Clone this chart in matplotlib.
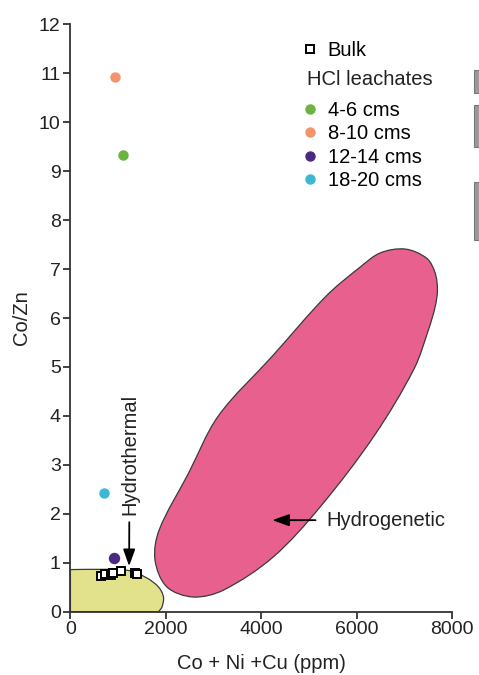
import numpy as np
import matplotlib
matplotlib.use('Agg')
import matplotlib.pyplot as plt
from matplotlib.path import Path
from matplotlib.patches import PathPatch, Rectangle
from matplotlib.lines import Line2D

plt.rcParams['font.family'] = ['Liberation Sans', 'DejaVu Sans']

# bulk sediment samples
bulk_x = [650, 720, 860, 900, 1060, 1350, 1390]
bulk_y = [0.72, 0.76, 0.74, 0.80, 0.84, 0.79, 0.76]

# HCl leachates by depth interval
leach_labels = ['4-6 cms', '8-10 cms', '12-14 cms', '18-20 cms']
leach_x = [1110, 930, 910, 700]
leach_y = [9.33, 10.93, 1.09, 2.42]
leach_colors = ['#6cb33f', '#f4946d', '#4b2a83', '#3bb8d6']
leach_size = [6.5, 6.5, 7.2, 6.5]

# field outlines
hydrogen_x = [7014, 7469, 7643, 7691, 7643, 7503, 7200, 6370, 5250, 4252,
              3204, 2569, 2017, 1772, 1860, 2470, 3100, 4230, 5360, 6070,
              6490]
hydrogen_y = [7.41, 7.22, 6.92, 6.57, 6.23, 5.76, 4.96, 3.60, 2.16, 1.12,
              0.44, 0.30, 0.51, 1.06, 1.67, 2.82, 4.00, 5.22, 6.45, 7.04,
              7.33]
hydrotherm_x = [0, 600, 1200, 1600, 1850, 1950, 1920, 1850]
hydrotherm_y = [0.86, 0.865, 0.845, 0.69, 0.50, 0.30, 0.10, 0.0]


def smooth_path(xs, ys, closed=False, xscale=0.000975):
    # cardinal spline through the anchors, tangents weighted by chord length
    pts = np.column_stack([xs, ys]).astype(float)
    n = len(pts)
    iso = pts * [xscale, 1.0]
    d = np.hypot(*(np.roll(iso, -1, axis=0) - iso).T)
    tang = []
    for i in range(n):
        if not closed and i == 0:
            tang.append((pts[1] - pts[0]) / d[0])
        elif not closed and i == n - 1:
            tang.append((pts[-1] - pts[-2]) / d[-2])
        else:
            tang.append((pts[(i + 1) % n] - pts[i - 1]) / (d[i - 1] + d[i]))
    verts = [pts[0]]
    codes = [Path.MOVETO]
    nseg = n if closed else n - 1
    for i in range(nseg):
        j = (i + 1) % n
        verts += [pts[i] + tang[i] * d[i] / 3, pts[j] - tang[j] * d[i] / 3,
                  pts[j]]
        codes += [Path.CURVE4] * 3
    return verts, codes


fig = plt.figure(figsize=(4.79, 6.75), dpi=100)
ax = fig.add_axes([0.147, 0.0938, 0.797, 0.870])

v, c = smooth_path(hydrogen_x, hydrogen_y, closed=True)
v.append(v[0]); c.append(Path.CLOSEPOLY)
ax.add_patch(PathPatch(Path(v, c), facecolor='#e8608e', edgecolor='#3a3a3a',
                       lw=0.9, zorder=1))

v, c = smooth_path(hydrotherm_x, hydrotherm_y)
v += [(0, 0), (0, hydrotherm_y[0])]
c += [Path.LINETO, Path.CLOSEPOLY]
ax.add_patch(PathPatch(Path(v, c), facecolor='#e1e28b', edgecolor='#3a3a3a',
                       lw=0.9, zorder=1))

ax.plot(bulk_x, bulk_y, ls='none', marker='s', ms=5.8, mfc='white',
        mec='black', mew=1.4, zorder=4)
for x, y, col, ms in zip(leach_x, leach_y, leach_colors, leach_size):
    ax.plot(x, y, ls='none', marker='o', ms=ms, color=col, zorder=4)

fs = 14.5
arrow = dict(arrowstyle='-|>,head_length=0.7,head_width=0.25', color='black',
             lw=1.3, shrinkA=3, shrinkB=0)
ax.annotate('Hydrothermal', xy=(1230, 0.93), xytext=(1240, 1.97),
            rotation=90, ha='center', va='bottom', fontsize=fs,
            color='#222222', arrowprops=arrow)
ax.annotate('Hydrogenetic', xy=(4230, 1.87), xytext=(5370, 1.87),
            ha='left', va='center', fontsize=fs, color='#222222',
            arrowprops=dict(arrow, shrinkA=6))

ax.set_xlim(0, 8000)
ax.set_ylim(0, 12)
ax.set_xticks([0, 2000, 4000, 6000, 8000])
ax.set_yticks(range(0, 13))
for s in ['top', 'right']:
    ax.spines[s].set_visible(False)
for s in ['left', 'bottom']:
    ax.spines[s].set_color('#333333')
    ax.spines[s].set_linewidth(1.3)
ax.tick_params(direction='out', length=5, width=1.3, color='#333333',
               labelsize=14, labelcolor='#222222', pad=2)
ax.set_xlabel('Co + Ni +Cu (ppm)', fontsize=fs, color='#222222', labelpad=11)
ax.set_ylabel('Co/Zn', fontsize=fs, color='#222222', labelpad=6)

bulk_handle = [Line2D([], [], ls='none', marker='s', ms=5.8, mfc='white',
                      mec='black', mew=1.4)]
leg1 = ax.legend(bulk_handle, ['Bulk'], loc='upper left',
                 bbox_to_anchor=(0.600, 0.972), frameon=False, fontsize=fs,
                 handlelength=1, handletextpad=0.4, borderpad=0,
                 borderaxespad=0)
ax.add_artist(leg1)
ax.text(0.620, 0.907, 'HCl leachates', transform=ax.transAxes, fontsize=fs,
        color='#222222', ha='left', va='center')
leach_handles = [Line2D([], [], ls='none', marker='o', ms=6.5, color=col)
                 for col in leach_colors]
leg2 = ax.legend(leach_handles, leach_labels, loc='upper left',
                 bbox_to_anchor=(0.600, 0.870), frameon=False, fontsize=fs,
                 handlelength=1, handletextpad=0.4, labelspacing=0.22,
                 borderpad=0, borderaxespad=0)

# grey page tabs at right edge
for top, bot in [(70, 93), (105, 147), (182, 240)]:
    fig.patches.append(Rectangle((474 / 479, 1 - bot / 675), 10 / 479,
                                 (bot - top) / 675, transform=fig.transFigure,
                                 facecolor='#9a9a9a', edgecolor='#777777',
                                 lw=0.8, figure=fig))

fig.savefig('out.png', dpi=100)
